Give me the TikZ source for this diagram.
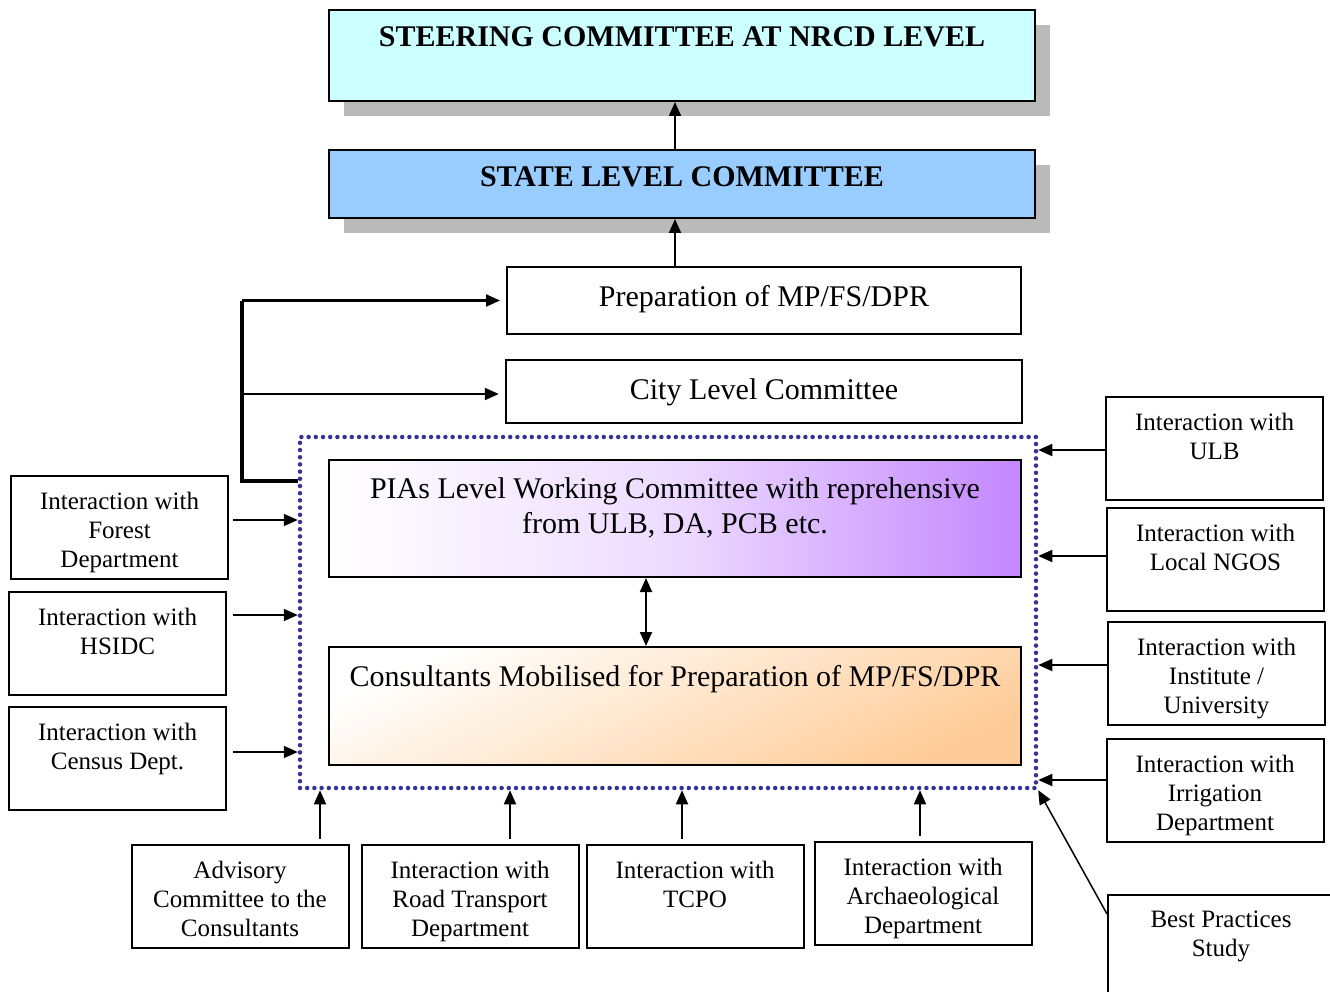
\documentclass[tikz,border=0pt]{standalone}
\usepackage{fontspec}
\setmainfont{Liberation Serif}
\usetikzlibrary{arrows.meta,shadows}
\definecolor{steercyan}{HTML}{CCFFFF}
\definecolor{stateblue}{HTML}{99CCFF}
\definecolor{piapurple}{RGB}{195,135,255}
\definecolor{peach}{HTML}{FFCC99}
\definecolor{dotblue}{HTML}{333399}
\tikzset{
  box/.style={draw, line width=2pt, inner sep=0pt},
  sidebox/.style={box, minimum width=217, minimum height=103},
  grayshadow/.style={drop shadow={shadow xshift=15pt, shadow yshift=-15pt, fill=black!27, opacity=1}},
  bigtxt/.style={anchor=north, align=center, inner sep=0pt, font=\fontsize{30}{35}\selectfont},
  smalltxt/.style={anchor=north, align=center, inner sep=0pt, font=\fontsize{25}{29}\selectfont},
  arr/.style={line width=1.8pt, -{Triangle[length=14pt,width=12pt]}},
}
\begin{document}
\begin{tikzpicture}[x=1pt,y=-1pt]
\useasboundingbox (0,0) rectangle (1330,992);
%%%% committees on top
\node[box, grayshadow, fill=steercyan, minimum width=706, minimum height=91] (steer) at (682,55.5) {};
\node[bigtxt] (steer-t) at ([yshift=-17pt]steer.north) {\bfseries STEERING COMMITTEE AT NRCD LEVEL};
\node[box, grayshadow, fill=stateblue, minimum width=706, minimum height=68] (state) at (682,184) {};
\node[bigtxt] (state-t) at ([yshift=-17pt]state.north) {\bfseries STATE LEVEL COMMITTEE};
\node[box, minimum width=514, minimum height=67] (prep) at (764,300.5) {};
\node[bigtxt] (prep-t) at ([yshift=-19pt]prep.north) {Preparation of MP/FS/DPR};
\node[box, line width=2.5pt, minimum width=516, minimum height=63] (city) at (764,391.5) {};
\node[bigtxt] (city-t) at ([yshift=-20pt]city.north) {City Level Committee};
\draw[arr] ([xshift=-7pt]state.north) -- ([xshift=-7pt]steer.south);
\draw[arr] ([xshift=-89pt]prep.north) -- ([xshift=-7pt]state.south);
%%%% working group
\node[draw=dotblue, line width=4.5pt, line cap=round, dash pattern=on 0pt off 7.2pt,
  minimum width=736, minimum height=351] (dots) at (668,612.5) {};
\node[box, shading=axis, left color=white, right color=piapurple, middle color=piapurple!30,
  minimum width=692, minimum height=117] (pia) at (675,518.5) {};
\node[bigtxt] (pia-t) at ([yshift=-18pt]pia.north) {PIAs Level Working Committee with reprehensive\\from ULB, DA, PCB etc.};
\node[box, top color=white, bottom color=peach, shading angle=25,
  minimum width=692, minimum height=118] (cons) at (675,706) {};
\node[bigtxt] (cons-t) at ([yshift=-19pt]cons.north) {Consultants Mobilised for Preparation of MP/FS/DPR};
\draw[line width=1.8pt, {Triangle[length=14pt,width=12pt]}-{Triangle[length=14pt,width=12pt]}]
  ([xshift=-29pt]pia.south) -- ([xshift=-29pt]pia.south |- cons.north);
%%%% link to city level and preparation
\coordinate (spine) at (242,481);
\draw[line width=3.5pt] ([yshift=131.5pt]dots.west) -- (spine) -- (spine |- prep.west);
\draw[arr, line width=2.2pt, shorten >=6pt] (spine |- prep.west) -- (prep.west);
\draw[arr, line width=2.2pt, shorten >=6pt] ([yshift=-2.5pt]spine |- city.west) -- ([yshift=-2.5pt]city.west);
%%%% left side
\node[sidebox] (forest) at (119.5,527) {};
\node[smalltxt] (forest-t) at ([yshift=-17pt]forest.north) {Interaction with\\Forest\\Department};
\node[sidebox] (hsidc) at (117.5,643.5) {};
\node[smalltxt] (hsidc-t) at ([yshift=-17pt]hsidc.north) {Interaction with\\HSIDC};
\node[sidebox] (census) at (117.5,758.5) {};
\node[smalltxt] (census-t) at ([yshift=-17pt]census.north) {Interaction with\\Census Dept.};
\draw[arr, shorten <=4pt] ([yshift=7pt]forest.east) -- ([yshift=7pt]forest.east -| dots.west);
\draw[arr, shorten <=6pt] ([yshift=28.5pt]hsidc.east) -- ([yshift=28.5pt]hsidc.east -| dots.west);
\draw[arr, shorten <=6pt] ([yshift=6.5pt]census.east) -- ([yshift=6.5pt]census.east -| dots.west);
%%%% right side
\node[sidebox] (ulb) at (1214.5,448.5) {};
\node[smalltxt] (ulb-t) at ([yshift=-17pt]ulb.north) {Interaction with\\ULB};
\node[sidebox] (ngos) at (1215.5,559) {};
\node[smalltxt] (ngos-t) at ([yshift=-17pt]ngos.north) {Interaction with\\Local NGOS};
\node[sidebox] (inst) at (1216.5,673.5) {};
\node[smalltxt] (inst-t) at ([yshift=-17pt]inst.north) {Interaction with\\Institute /\\University};
\node[sidebox] (irrig) at (1215,790.5) {};
\node[smalltxt] (irrig-t) at ([yshift=-17pt]irrig.north) {Interaction with\\Irrigation\\Department};
\node[box, minimum width=226, minimum height=115] (best) at (1221,952.5) {};
\node[smalltxt] (best-t) at ([yshift=-17pt]best.north) {Best Practices\\Study};
\draw[arr] ([yshift=-1.5pt]ulb.west) -- ([yshift=-1.5pt]ulb.west -| dots.east);
\draw[arr] ([yshift=3pt]ngos.west) -- ([yshift=3pt]ngos.west -| dots.east);
\draw[arr] ([yshift=8.5pt]inst.west) -- ([yshift=8.5pt]inst.west -| dots.east);
\draw[arr] ([yshift=10.5pt]irrig.west) -- ([yshift=10.5pt]irrig.west -| dots.east);
\draw[arr, line width=1.5pt] ([yshift=-20pt]best.north west) -- (dots.south east);
%%%% bottom row
\node[sidebox] (adv) at (240,896) {};
\node[smalltxt] (adv-t) at ([yshift=-17pt]adv.north) {Advisory\\Committee to the\\Consultants};
\node[sidebox] (road) at (470,896) {};
\node[smalltxt] (road-t) at ([yshift=-17pt]road.north) {Interaction with\\Road Transport\\Department};
\node[sidebox] (tcpo) at (695,896) {};
\node[smalltxt] (tcpo-t) at ([yshift=-17pt]tcpo.north) {Interaction with\\TCPO};
\node[sidebox] (arch) at (923,893.5) {};
\node[smalltxt] (arch-t) at ([yshift=-17pt]arch.north) {Interaction with\\Archaeological\\Department};
\draw[arr] ([xshift=80pt,yshift=5pt]adv.north) -- ([xshift=80pt]adv.north |- dots.south);
\draw[arr] ([xshift=40pt,yshift=5pt]road.north) -- ([xshift=40pt]road.north |- dots.south);
\draw[arr] ([xshift=-13pt,yshift=5pt]tcpo.north) -- ([xshift=-13pt]tcpo.north |- dots.south);
\draw[arr] ([xshift=-3pt,yshift=5pt]arch.north) -- ([xshift=-3pt]arch.north |- dots.south);
\end{tikzpicture}
\end{document}
